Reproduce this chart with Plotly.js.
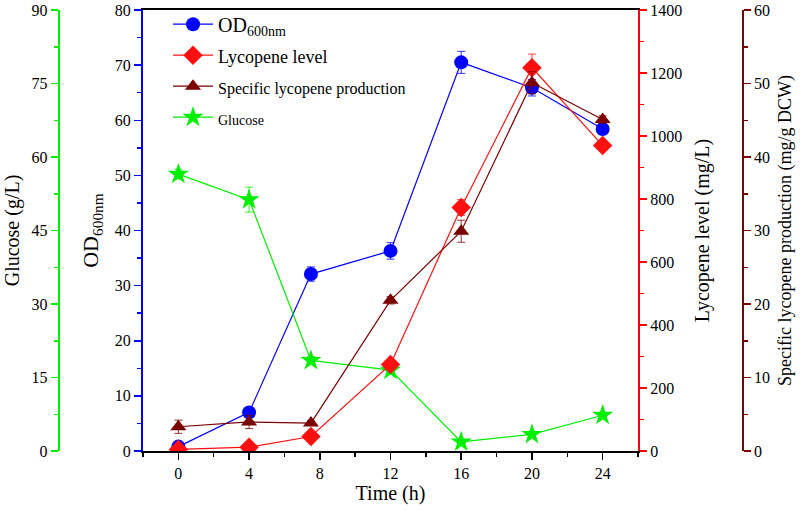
<!DOCTYPE html>
<html><head><meta charset="utf-8">
<script src="https://cdn.plot.ly/plotly-3.0.1.min.js"></script>
<style>body{margin:0;background:#fff}#chart{width:800px;height:510px}</style>
</head><body><div id="chart"></div>
<script>
const time = [0, 4, 7.5, 12, 16, 20, 24];
const od600 = [0.8, 7.0, 32.1, 36.3, 70.5, 65.9, 58.4];
const od600Err = [0.3, 0.5, 1.3, 1.5, 2.0, 1.5, 1.0];
const lycopene = [5, 12, 46, 275, 773, 1217, 970];
const lycopeneErr = [2, 3, 5, 10, 25, 43, 10];
const specific = [3.3, 3.95, 3.8, 20.5, 29.9, 50.1, 45.1];
const specificErr = [0.9, 0.9, 0.3, 0.5, 1.5, 1.5, 0.5];
const glucose = [56.5, 51.3, 18.5, 16.5, 1.85, 3.4, 7.3];
const glucoseErr = [1.0, 2.55, 0.8, 0.5, 0.3, 0.3, 0.3];
const xTicks = [0, 4, 8, 12, 16, 20, 24];

const F = 'Liberation Serif, Times New Roman, serif';
function tr(y, err, name, color, sym, size, yax, rank) {
  return {x: time, y: y, name: name, type: 'scatter', mode: 'lines+markers', yaxis: yax,
    legendrank: rank, legendgroup: 'g' + rank,
    line: {color: color, width: 1.2},
    marker: {color: color, symbol: sym, size: size},
    error_y: {type: 'data', array: err, visible: true, color: color, thickness: 0.8, width: 4}};
}
const data = [
  tr(od600, od600Err, 'OD<sub>600nm</sub>', '#0000ff', 'circle', 14, 'y', 1),
  tr(lycopene, lycopeneErr, '<span style="font-size:18px">Lycopene level</span>', '#ff1010', 'diamond', 15, 'y3', 2),
  tr(specific, specificErr, '<span style="font-size:16px">Specific lycopene production</span>', '#7a0000', 'triangle-up', 14, 'y4', 3),
  tr(glucose, glucoseErr, '<span style="font-size:14px">Glucose</span>', '#00ee00', 'star', 16, 'y2', 4)
];
const tf = {family: F, size: 16, color: '#000'};
const layout = {
  width: 800, height: 510,
  margin: {l: 0, r: 0, t: 10, b: 59},
  paper_bgcolor: '#fff', plot_bgcolor: '#fff',
  font: {family: F, color: '#000'},
  showlegend: true,
  legend: {x: 168/800, y: 1.012, xref: 'paper', xanchor: 'left', yanchor: 'top',
    font: {family: F, size: 20, color: '#000'}, bgcolor: 'rgba(0,0,0,0)', tracegroupgap: 2,
    itemwidth: 40},
  xaxis: {domain: [143/800, 638/800], range: [-2, 26], tickvals: xTicks, ticktext: xTicks.map(String),
    showgrid: false, zeroline: false, showline: true, linecolor: '#000', linewidth: 2, mirror: true,
    ticks: 'outside', ticklen: 7, tickwidth: 1.5, tickcolor: '#000',
    minor: {dtick: 2, tick0: 0, ticks: 'outside', ticklen: 4, tickcolor: '#000', tickwidth: 1.5},
    tickfont: tf, title: {text: 'Time (h)', font: {family: F, size: 20}, standoff: 3}},
  yaxis: {range: [0, 80], dtick: 10, showgrid: false, zeroline: false, showline: true,
    linecolor: '#0000ff', linewidth: 2, ticks: 'outside', ticklen: 7, tickwidth: 1.5, tickcolor: '#0000ff',
    minor: {dtick: 5, ticks: 'outside', ticklen: 4, tickcolor: '#0000ff', tickwidth: 1.5},
    tickfont: tf, title: {text: 'OD<sub>600nm</sub>', font: {family: F, size: 22}, standoff: 10}},
  yaxis2: {range: [0, 90], dtick: 15, overlaying: 'y', side: 'left', anchor: 'free', position: 58.7/800,
    showgrid: false, zeroline: false, showline: true, linecolor: '#00ee00', linewidth: 2,
    ticks: 'outside', ticklen: 7, tickwidth: 1.5, tickcolor: '#00ee00',
    minor: {dtick: 7.5, ticks: 'outside', ticklen: 4, tickcolor: '#00ee00', tickwidth: 1.5},
    tickfont: tf, title: {text: 'Glucose (g/L)', font: {family: F, size: 20}, standoff: 6}},
  yaxis3: {range: [0, 1400], dtick: 200, overlaying: 'y', side: 'right', anchor: 'x',
    showgrid: false, zeroline: false, showline: true, linecolor: '#ff0000', linewidth: 2,
    ticks: 'outside', ticklen: 7, tickwidth: 1.5, tickcolor: '#ff0000',
    minor: {dtick: 100, ticks: 'outside', ticklen: 4, tickcolor: '#ff0000', tickwidth: 1.5},
    tickfont: tf, title: {text: 'Lycopene level (mg/L)', font: {family: F, size: 20}, standoff: 14}},
  yaxis4: {range: [0, 60], dtick: 10, overlaying: 'y', side: 'right', anchor: 'free', position: 742.7/800,
    showgrid: false, zeroline: false, showline: true, linecolor: '#7a0000', linewidth: 2,
    ticks: 'outside', ticklen: 7, tickwidth: 1.5, tickcolor: '#7a0000',
    minor: {dtick: 5, ticks: 'outside', ticklen: 4, tickcolor: '#7a0000', tickwidth: 1.5},
    tickfont: tf, title: {text: 'Specific lycopene production (mg/g DCW)', font: {family: F, size: 18}, standoff: 8}}
};
Plotly.newPlot('chart', data, layout, {displayModeBar: false, staticPlot: true});
</script></body></html>
